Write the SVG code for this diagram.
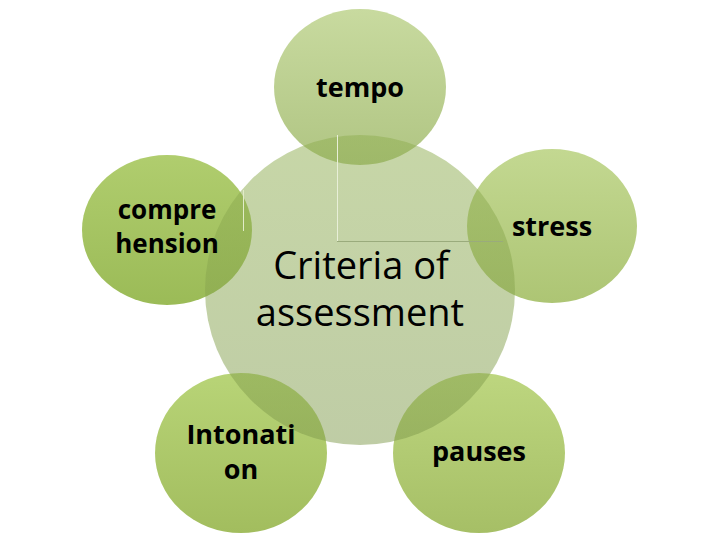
<svg xmlns="http://www.w3.org/2000/svg" width="720" height="540" viewBox="0 0 720 540">
<defs>
<linearGradient id="gTempo" x1="0" y1="0" x2="0" y2="1"><stop offset="0" stop-color="#c8da9f"/><stop offset="1" stop-color="#b0c583"/></linearGradient>
<linearGradient id="gComp" x1="0" y1="0" x2="0" y2="1"><stop offset="0" stop-color="#b0cd6e"/><stop offset="1" stop-color="#9bbb57"/></linearGradient>
<linearGradient id="gStress" x1="0" y1="0" x2="0" y2="1"><stop offset="0" stop-color="#c3d891"/><stop offset="1" stop-color="#adc574"/></linearGradient>
<linearGradient id="gInto" x1="0" y1="0" x2="0" y2="1"><stop offset="0" stop-color="#b8d477"/><stop offset="1" stop-color="#a2bd5e"/></linearGradient>
<linearGradient id="gPause" x1="0" y1="0" x2="0" y2="1"><stop offset="0" stop-color="#bdd67f"/><stop offset="1" stop-color="#a6bf66"/></linearGradient>
<linearGradient id="gCenter" x1="0" y1="0" x2="0" y2="1"><stop offset="0" stop-color="#8fae50"/><stop offset="1" stop-color="#7f9a4c"/></linearGradient>
</defs>
<style>
.sat{stroke:none}
.lbl{font-family:"Open Sans","Liberation Sans",sans-serif;font-weight:bold;font-size:27px;fill:#000;text-anchor:middle}
.sm{font-size:26px}
.ctr{font-family:"Open Sans","Liberation Sans",sans-serif;font-size:38px;fill:#000;text-anchor:middle}
</style>
<rect width="720" height="540" fill="#fff"/>
<g id="tempo"><ellipse class="sat" cx="360" cy="87" rx="86" ry="78" fill="url(#gTempo)"/></g>
<g id="comprehension"><ellipse class="sat" cx="167" cy="230" rx="85" ry="75" fill="url(#gComp)"/></g>
<g id="stress"><ellipse class="sat" cx="552" cy="226" rx="85" ry="77" fill="url(#gStress)"/></g>
<g id="intonation"><ellipse class="sat" cx="241" cy="453" rx="86" ry="80" fill="url(#gInto)"/></g>
<g id="pauses"><ellipse class="sat" cx="479" cy="453" rx="86" ry="80" fill="url(#gPause)"/></g>
<g id="center">
<ellipse cx="360" cy="290" rx="155" ry="155" fill="url(#gCenter)" fill-opacity="0.5"/>
<text class="ctr" x="361" y="279">Criteria of</text>
<text class="ctr" x="360" y="326">assessment</text>
</g>
<g id="connectors" fill="none" stroke-width="1">
<line x1="337.5" y1="135" x2="337.5" y2="241" stroke="#e8efd8"/>
<line x1="337" y1="241.5" x2="503" y2="241.5" stroke="#9aab7c"/>
<line x1="243.5" y1="190" x2="243.5" y2="231" stroke="#e2ecc8"/>
</g>
<g id="labels">
<text class="lbl" x="360" y="97">tempo</text>
<text class="lbl sm" x="167" y="219">compre</text>
<text class="lbl sm" x="167" y="253">hension</text>
<text class="lbl" x="552" y="236">stress</text>
<text class="lbl" x="241" y="444">Intonati</text>
<text class="lbl" x="241" y="479">on</text>
<text class="lbl" x="479" y="461">pauses</text>
</g>
</svg>
